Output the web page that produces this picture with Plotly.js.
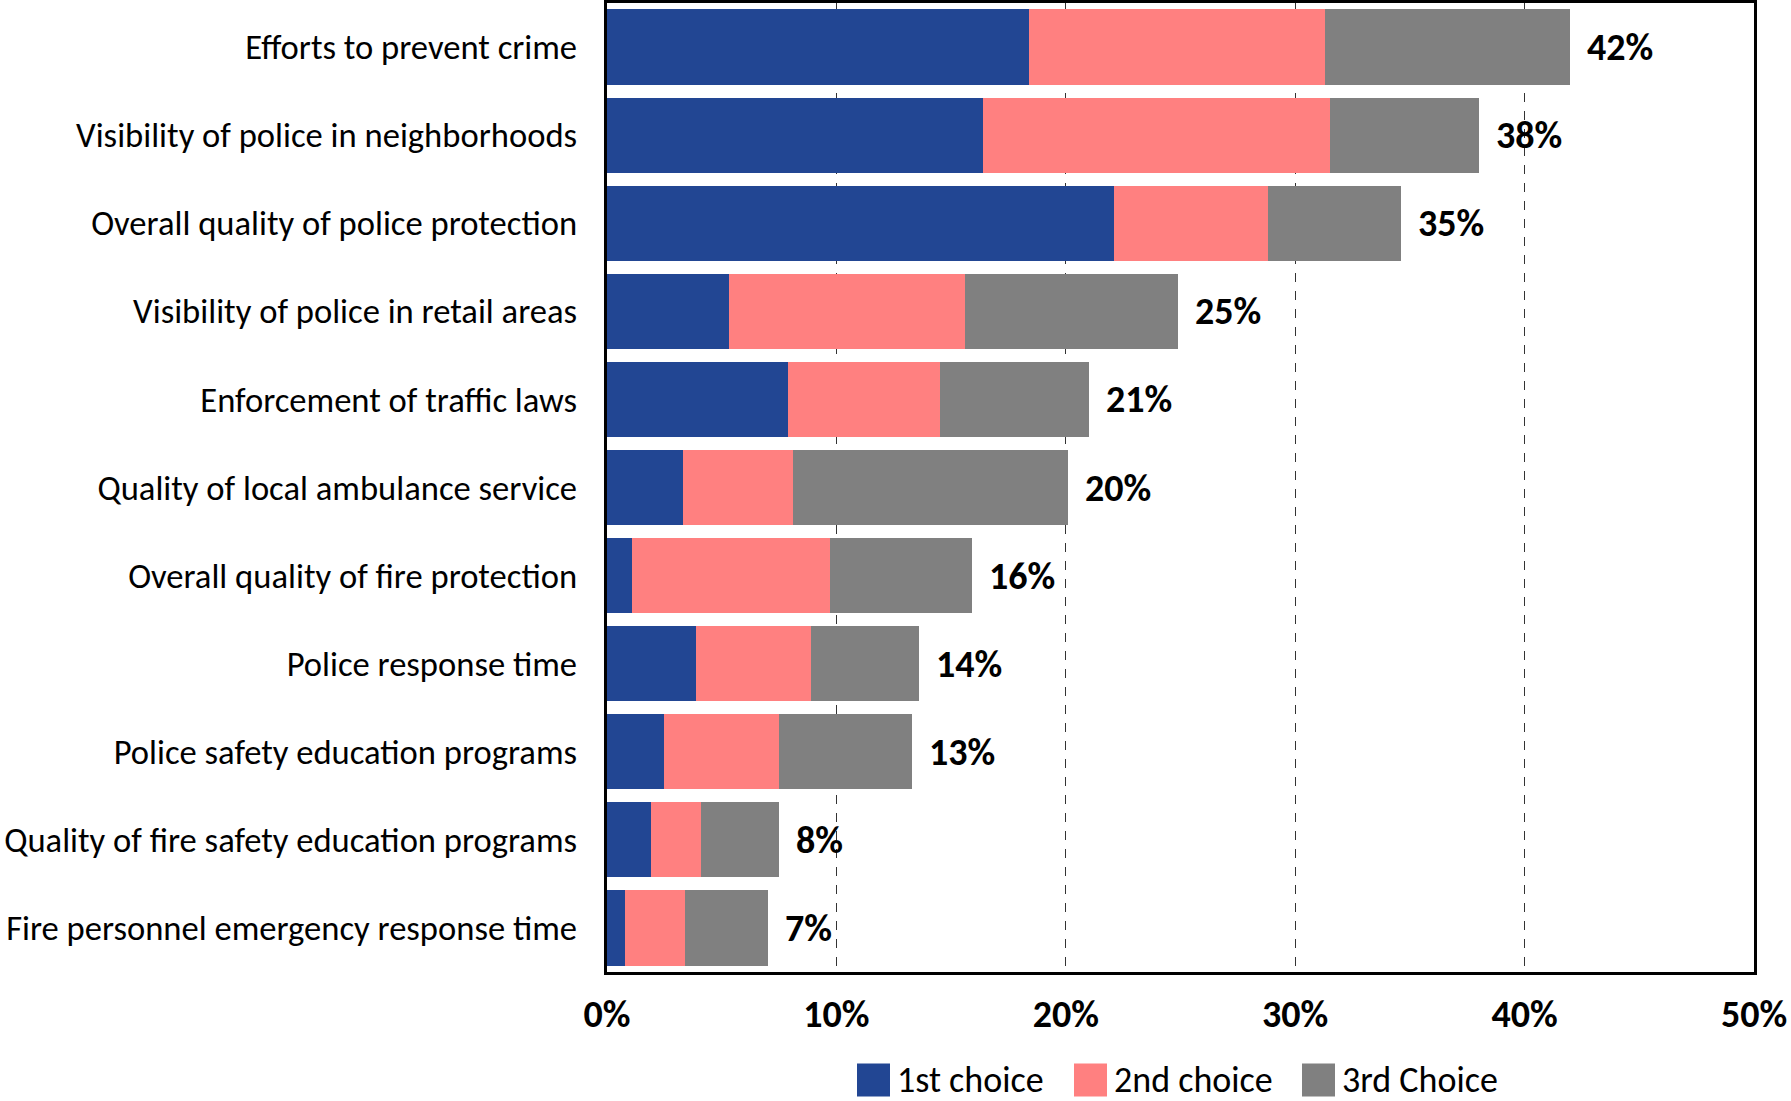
<!DOCTYPE html>
<html>
<head>
<meta charset="utf-8">
<script src="https://cdn.plot.ly/plotly-3.0.1.min.js"></script>
<style>html,body{margin:0;padding:0;background:#fff;}#chart{width:1791px;height:1101px;}</style>
</head>
<body>
<div id="chart"></div>
<script>
var categories = [
  "Efforts to prevent crime",
  "Visibility of police in neighborhoods",
  "Overall quality of police protection",
  "Visibility of police in retail areas",
  "Enforcement of traffic laws",
  "Quality of local ambulance service",
  "Overall quality of fire protection",
  "Police response time",
  "Police safety education programs",
  "Quality of fire safety education programs",
  "Fire personnel emergency response time"
];
var firstChoice  = [18.4, 16.4, 22.1, 5.3, 7.9, 3.3, 1.1, 3.9, 2.5, 1.9, 0.8];
var secondChoice = [12.9, 15.1, 6.7, 10.3, 6.6, 4.8, 8.6, 5.0, 5.0, 2.2, 2.6];
var thirdChoice  = [10.7, 6.5, 5.8, 9.3, 6.5, 12.0, 6.2, 4.7, 5.8, 3.4, 3.6];
var totalLabels  = ["42%", "38%", "35%", "25%", "21%", "20%", "16%", "14%", "13%", "8%", "7%"];
var seriesNames  = ["1st choice", "2nd choice", "3rd Choice"];
var seriesColors = ["#224693", "#FF8080", "#808080"];
var xTickVals = [0, 10, 20, 30, 40, 50];
var xTickText = ["0%", "10%", "20%", "30%", "40%", "50%"];

var FONT = "Carlito, Calibri, 'Open Sans', sans-serif";

// plot area geometry (pixels)
var W = 1791, H = 1101;
var M = {l: 607, r: 37, t: 3, b: 129};
var plotW = W - M.l - M.r, plotH = H - M.t - M.b;
function px2paperX(px) { return (px - M.l) / plotW; }
function px2paperY(py) { return (H - M.b - py) / plotH; }

var seriesData = [firstChoice, secondChoice, thirdChoice];
var traces = seriesData.map(function (vals, k) {
  return {type: "bar", orientation: "h", name: seriesNames[k], y: categories, x: vals,
          marker: {color: seriesColors[k], line: {width: 0}}, showlegend: false};
});

var annotations = categories.map(function (c, i) {
  return {
    x: firstChoice[i] + secondChoice[i] + thirdChoice[i],
    y: c, xref: "x", yref: "y",
    text: "<b>" + totalLabels[i] + "</b>",
    showarrow: false, xanchor: "left", xshift: 15,
    font: {family: FONT, size: 38, color: "#000"}
  };
});

// custom legend with large square swatches
var legendY = 1080, sw = 33;
var legendSquareLeft = [857, 1074, 1302];
var shapes = [];
seriesNames.forEach(function (nm, k) {
  var x0 = legendSquareLeft[k];
  shapes.push({type: "rect", xref: "paper", yref: "paper",
    x0: px2paperX(x0), x1: px2paperX(x0 + sw),
    y0: px2paperY(legendY + sw / 2), y1: px2paperY(legendY - sw / 2),
    fillcolor: seriesColors[k], line: {width: 0}});
  annotations.push({xref: "paper", yref: "paper", x: px2paperX(x0 + sw + 5), y: px2paperY(legendY),
    xanchor: "left", yanchor: "middle", showarrow: false, text: nm,
    font: {family: FONT, size: 36, color: "#000"}});
});

var layout = {
  width: W, height: H,
  margin: {l: M.l, r: M.r, t: M.t, b: M.b, pad: 0, autoexpand: false},
  barmode: "stack",
  bargap: 0.146,
  paper_bgcolor: "#fff", plot_bgcolor: "#fff",
  font: {family: FONT, color: "#000"},
  showlegend: false,
  xaxis: {range: [0, 50], tickvals: xTickVals, ticktext: xTickText,
          showgrid: true, gridcolor: "#333", griddash: "dash", gridwidth: 1,
          zeroline: false, showline: true, linecolor: "#000", linewidth: 3, mirror: true,
          ticks: "", ticklabelstandoff: 6, automargin: false,
          tickfont: {family: FONT, size: 38, color: "#000", weight: "bold"}},
  yaxis: {type: "category", autorange: "reversed", showgrid: false, zeroline: false,
          showline: true, linecolor: "#000", linewidth: 3, mirror: true,
          ticks: "", ticklabelstandoff: 20, automargin: false,
          tickfont: {family: FONT, size: 34.6, color: "#000"}},
  shapes: shapes,
  annotations: annotations
};

Plotly.newPlot("chart", traces, layout, {displayModeBar: false, staticPlot: true});
</script>
</body>
</html>
